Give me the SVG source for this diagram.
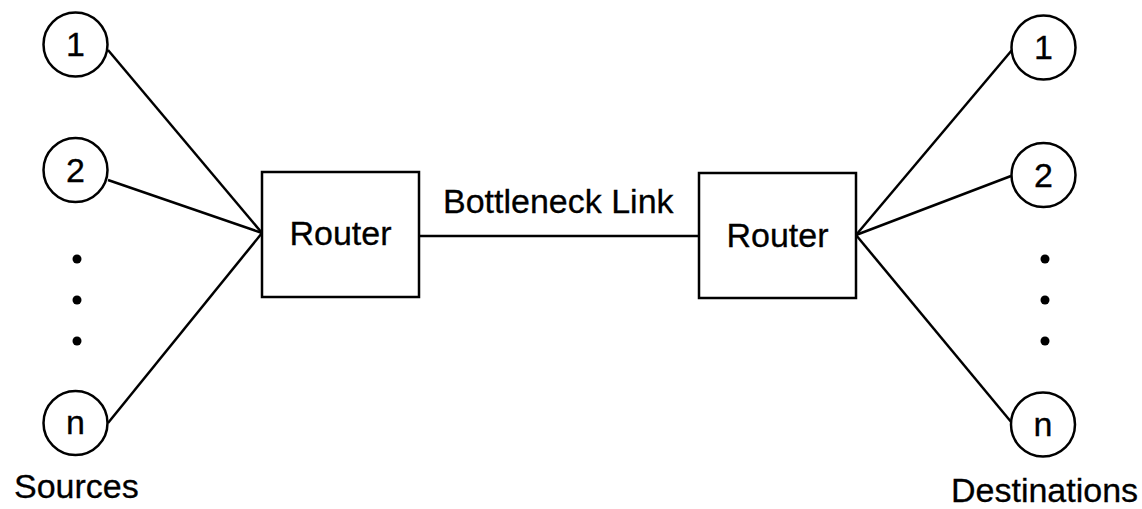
<svg xmlns="http://www.w3.org/2000/svg" width="1142" height="509" viewBox="0 0 1142 509">
  <style>
    .node circle, .node rect { fill: #fff; stroke: #000; stroke-width: 2.5; }
    .edge { stroke: #000; stroke-width: 2.5; fill: none; }
    text { font-family: "Liberation Sans", Arial, sans-serif; font-size: 34px; fill: #000; stroke: #000; stroke-width: 0.3; }
    .c { text-anchor: middle; }
    .dot { fill: #000; }
  </style>
  <rect width="1142" height="509" fill="#fff"/>

  <!-- connectors -->
  <g id="connectors">
    <line class="edge" x1="108" y1="50" x2="262" y2="233"/>
    <line class="edge" x1="108" y1="180" x2="262" y2="233"/>
    <line class="edge" x1="108" y1="423" x2="262" y2="233"/>
    <line class="edge" x1="419" y1="236" x2="699" y2="236"/>
    <line class="edge" x1="856" y1="235" x2="1012" y2="50"/>
    <line class="edge" x1="856" y1="235" x2="1011" y2="176"/>
    <line class="edge" x1="856" y1="235" x2="1012" y2="423"/>
  </g>

  <!-- source hosts -->
  <g id="src1" class="node"><circle cx="75.5" cy="44.5" r="32"/><text class="c" x="75.5" y="56">1</text></g>
  <g id="src2" class="node"><circle cx="75.5" cy="170" r="32"/><text class="c" x="75.5" y="182">2</text></g>
  <g id="srcDots"><circle class="dot" cx="77" cy="259" r="4.5"/><circle class="dot" cx="77" cy="300" r="4.5"/><circle class="dot" cx="77" cy="341" r="4.5"/></g>
  <g id="srcN" class="node"><circle cx="75.5" cy="423" r="32"/><text class="c" x="75.5" y="434">n</text></g>
  <text id="sourcesLabel" x="14" y="498">Sources</text>

  <!-- routers -->
  <g id="routerLeft" class="node"><rect x="262" y="172" width="157" height="125"/><text class="c" x="340.5" y="245">Router</text></g>
  <text id="linkLabel" x="443" y="213">Bottleneck Link</text>
  <g id="routerRight" class="node"><rect x="699" y="173" width="157" height="125"/><text class="c" x="777.5" y="247">Router</text></g>

  <!-- destination hosts -->
  <g id="dst1" class="node"><circle cx="1043.5" cy="47.5" r="32"/><text class="c" x="1043.5" y="59">1</text></g>
  <g id="dst2" class="node"><circle cx="1043.5" cy="175" r="32"/><text class="c" x="1043.5" y="187">2</text></g>
  <g id="dstDots"><circle class="dot" cx="1045" cy="259" r="4.5"/><circle class="dot" cx="1045" cy="300" r="4.5"/><circle class="dot" cx="1045" cy="341" r="4.5"/></g>
  <g id="dstN" class="node"><circle cx="1043" cy="424.5" r="32"/><text class="c" x="1043" y="436">n</text></g>
  <text id="destinationsLabel" x="951" y="502">Destinations</text>
</svg>
